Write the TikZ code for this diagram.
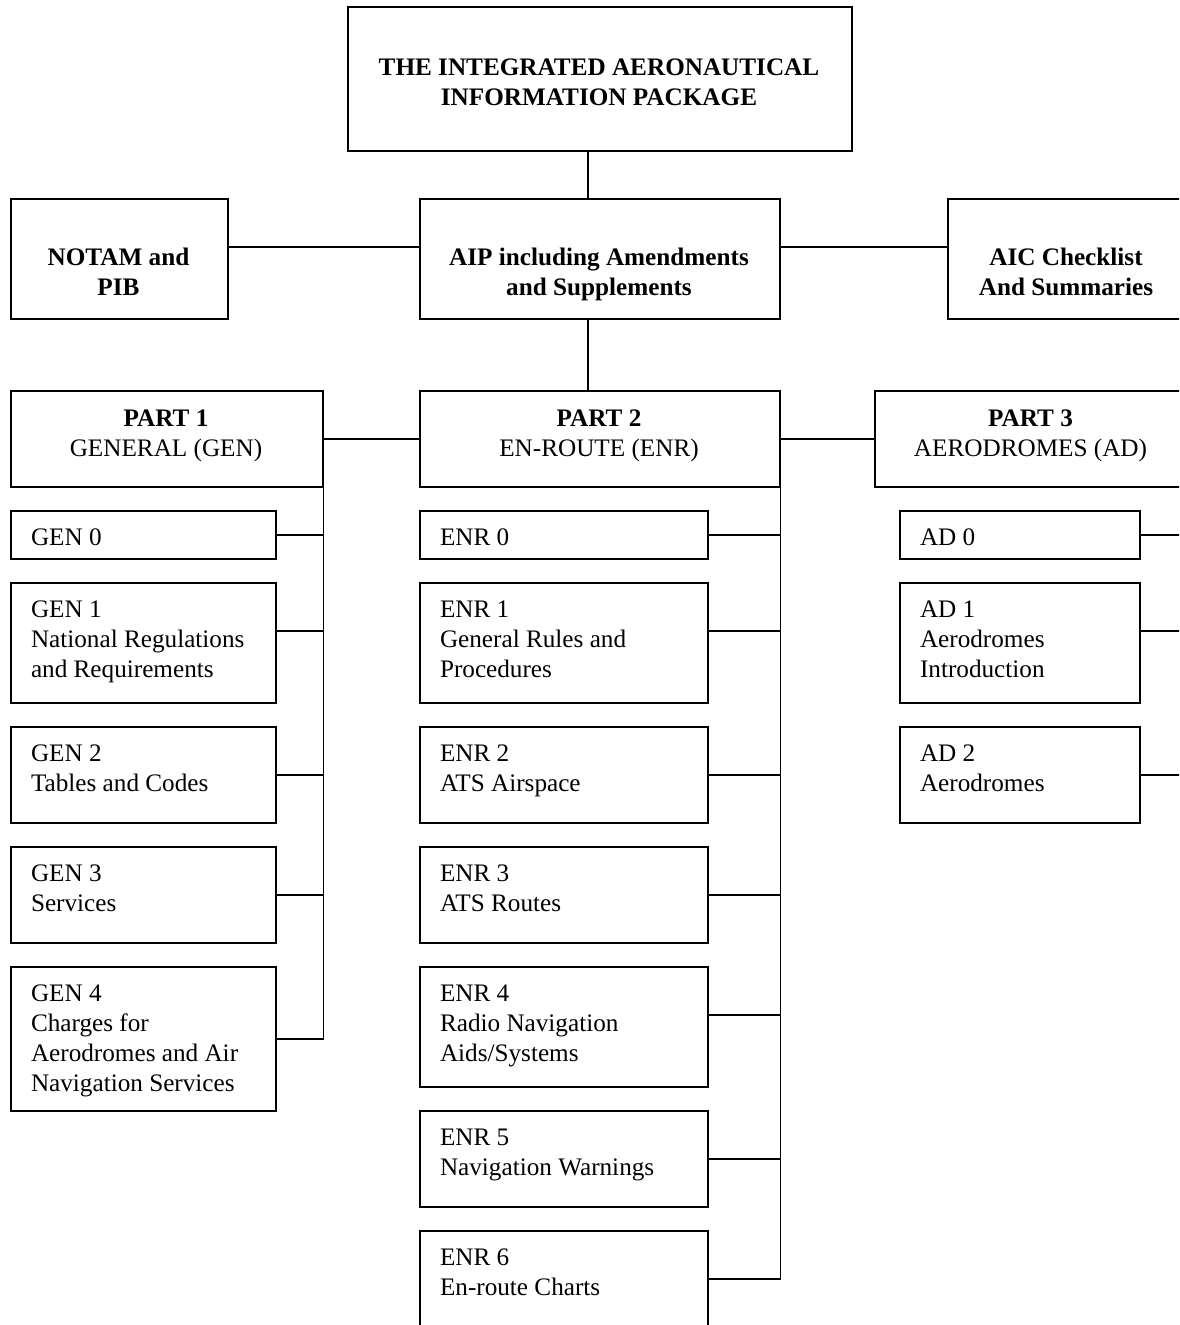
\documentclass[tikz,border=0pt]{standalone}
\usepackage{fontspec}
\setmainfont{Liberation Serif}
\tikzset{
  boxst/.style={draw=black, line width=1.5pt, fill=white, inner sep=0pt, rectangle},
  txtst/.style={inner sep=0pt, outer sep=0pt, text=black, font=\fontsize{25.2}{30}\selectfont},
  conn/.style={draw=black, line width=1.5pt},
}
% #1 name, #2 x, #3 y, #4 width, #5 height, #6 lines
\newcommand\LeftBox[6]{%
  \node[boxst, minimum width=#4pt, minimum height=#5pt, anchor=north west] (#1) at (#2,#3) {};
  \node[txtst, anchor=base west] (#1-t) at ({#2+21},{#3+35.5}) {\begin{tabular}[t]{@{}l@{}}#6\end{tabular}};
}
% #1 name, #2 x, #3 y, #4 width, #5 height, #6 text centre x, #7 first baseline y, #8 lines
\newcommand\MidBox[8]{%
  \node[boxst, minimum width=#4pt, minimum height=#5pt, anchor=north west] (#1) at (#2,#3) {};
  \node[txtst, anchor=base] (#1-t) at (#6,#7) {\begin{tabular}[t]{@{}c@{}}#8\end{tabular}};
}
\begin{document}
\begin{tikzpicture}[x=1pt, y=-1pt]
\fill[white] (0,0) rectangle (1179,1325);
\clip (0,0) rectangle (1179,1325);

% top level
\MidBox{top}{347}{6}{504}{144}{599}{75.5}{\bfseries THE INTEGRATED AERONAUTICAL\\\bfseries INFORMATION PACKAGE}
\MidBox{notam}{10}{198}{217}{120}{118.5}{265}{\bfseries NOTAM and\\\bfseries PIB}
\MidBox{aip}{419}{198}{360}{120}{599}{265}{\bfseries AIP including Amendments\\\bfseries and Supplements}
\MidBox{aic}{947}{198}{239}{120}{1066}{265}{\bfseries AIC Checklist\\\bfseries And Summaries}

% parts
\MidBox{pa}{10}{390}{312}{96}{166}{426}{\bfseries PART 1\\GENERAL (GEN)}
\MidBox{pb}{419}{390}{360}{96}{599}{426}{\bfseries PART 2\\EN-ROUTE (ENR)}
\MidBox{pc}{874}{390}{313}{96}{1030.5}{426}{\bfseries PART 3\\AERODROMES (AD)}

% GEN column
\LeftBox{gen0}{10}{510}{265}{48}{GEN 0}
\LeftBox{gen1}{10}{582}{265}{120}{GEN 1\\National Regulations\\and Requirements}
\LeftBox{gen2}{10}{726}{265}{96}{GEN 2\\Tables and Codes}
\LeftBox{gen3}{10}{846}{265}{96}{GEN 3\\Services}
\LeftBox{gen4}{10}{966}{265}{144}{GEN 4\\Charges for\\Aerodromes and Air\\Navigation Services}

% ENR column
\LeftBox{enr0}{419}{510}{288}{48}{ENR 0}
\LeftBox{enr1}{419}{582}{288}{120}{ENR 1\\General Rules and\\Procedures}
\LeftBox{enr2}{419}{726}{288}{96}{ENR 2\\ATS Airspace}
\LeftBox{enr3}{419}{846}{288}{96}{ENR 3\\ATS Routes}
\LeftBox{enr4}{419}{966}{288}{120}{ENR 4\\Radio Navigation\\Aids/Systems}
\LeftBox{enr5}{419}{1110}{288}{96}{ENR 5\\Navigation Warnings}
\LeftBox{enr6}{419}{1230}{288}{96}{ENR 6\\En-route Charts}

% AD column
\LeftBox{ad0}{899}{510}{240}{48}{AD 0}
\LeftBox{ad1}{899}{582}{240}{120}{AD 1\\Aerodromes\\Introduction}
\LeftBox{ad2}{899}{726}{240}{96}{AD 2\\Aerodromes}

% top connectors
\draw[conn] ([xshift=-12pt]top.south) -- ([xshift=-12pt]aip.north);
\draw[conn] ([yshift=12pt]notam.east) -- ([yshift=12pt]aip.west);
\draw[conn] ([yshift=12pt]aip.east) -- ([yshift=12pt]aic.west);
\draw[conn] ([xshift=-12pt]aip.south) -- ([xshift=-12pt]pb.north);
\draw[conn] (pa.east) -- (pb.west);
\draw[conn] (pb.east) -- (pc.west);

% offset connection points
\coordinate (g1c) at ([yshift=12pt]gen1.east);
\coordinate (e1c) at ([yshift=12pt]enr1.east);
\coordinate (e4c) at ([yshift=12pt]enr4.east);
\coordinate (a1c) at ([yshift=12pt]ad1.east);

% GEN spine
\draw[conn] (pa.south east) |- (gen4.east);
\draw[conn] (gen0.east) -- (gen0.east -| pa.east);
\draw[conn] (g1c) -- (g1c -| pa.east);
\draw[conn] (gen2.east) -- (gen2.east -| pa.east);
\draw[conn] (gen3.east) -- (gen3.east -| pa.east);

% ENR spine
\draw[conn] (pb.south east) |- (enr6.east);
\draw[conn] (enr0.east) -- (enr0.east -| pb.east);
\draw[conn] (e1c) -- (e1c -| pb.east);
\draw[conn] (enr2.east) -- (enr2.east -| pb.east);
\draw[conn] (enr3.east) -- (enr3.east -| pb.east);
\draw[conn] (e4c) -- (e4c -| pb.east);
\draw[conn] (enr5.east) -- (enr5.east -| pb.east);

% AD spine
\draw[conn] (pc.south east) |- (ad2.east);
\draw[conn] (ad0.east) -- (ad0.east -| pc.east);
\draw[conn] (a1c) -- (a1c -| pc.east);
\end{tikzpicture}
\end{document}
